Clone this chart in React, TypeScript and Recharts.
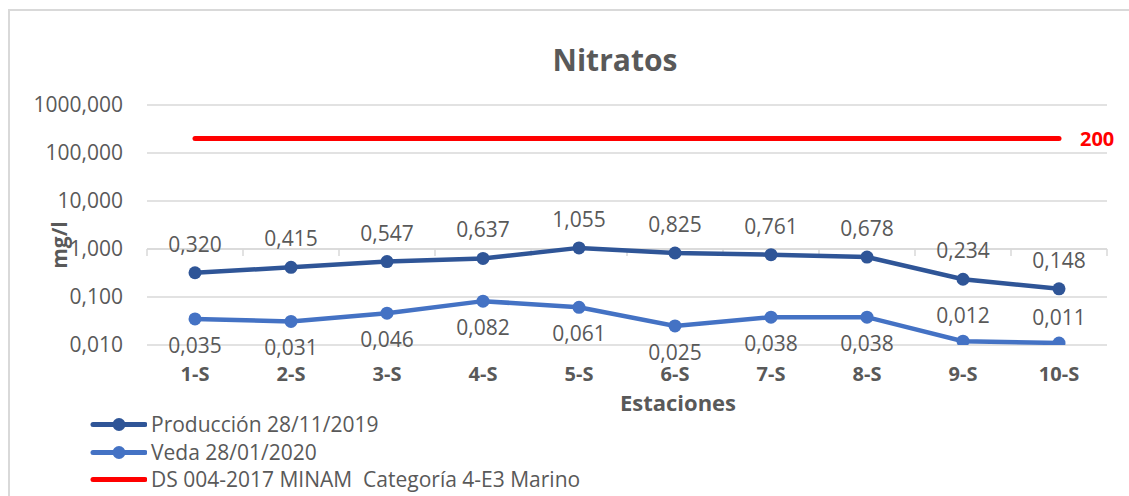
import React from 'react';
import { LineChart, Line, XAxis, YAxis, CartesianGrid, LabelList, ReferenceLine, Legend } from 'recharts';

const categories = ['1-S', '2-S', '3-S', '4-S', '5-S', '6-S', '7-S', '8-S', '9-S', '10-S'];
const produccion = [0.320, 0.415, 0.547, 0.637, 1.055, 0.825, 0.761, 0.678, 0.234, 0.148];
const veda = [0.035, 0.031, 0.046, 0.082, 0.061, 0.025, 0.038, 0.038, 0.012, 0.011];
const limite = [200, 200, 200, 200, 200, 200, 200, 200, 200, 200];
const yTicks = [0.01, 0.1, 1, 10, 100, 1000];
const seriesNames = ['Producción 28/11/2019', 'Veda 28/01/2020', 'DS 004-2017 MINAM  Categoría 4-E3 Marino'];
const vedaLabelsAbove = ['9-S', '10-S'];

const data = categories.map((c, i) => ({ idx: i + 1, cat: c, prod: produccion[i], veda: veda[i], lim: limite[i] }));
const xTicks = data.map((d) => d.idx);
const boundaries = [...categories.map((_, i) => i + 0.5), categories.length + 0.5];

const FONT = "'Open Sans', sans-serif";
const GRAY = '#595959';
const GRID = '#D9D9D9';
const DARK = '#2F5597';
const LIGHT = '#4472C4';
const RED = '#FF0000';

const fmt = (v: number) => Number(v).toFixed(3).replace('.', ',');

const ProdLabel = (p: any) => (
  <text x={p.x} y={p.y - 29} textAnchor="middle" dominantBaseline="central" fontSize={21} fill={GRAY} fontFamily={FONT}>
    {fmt(p.value)}
  </text>
);

const VedaLabel = (p: any) => {
  const above = vedaLabelsAbove.includes(categories[p.index]);
  return (
    <text x={p.x} y={above ? p.y - 26 : p.y + 26} textAnchor="middle" dominantBaseline="central" fontSize={21} fill={GRAY} fontFamily={FONT}>
      {fmt(p.value)}
    </text>
  );
};

const LimLabel = (p: any) => {
  if (p.index !== limite.length - 1) return null;
  return (
    <text x={p.x + 21} y={p.y} textAnchor="start" dominantBaseline="central" fontSize={20} fontWeight={700} fill={RED} fontFamily={FONT}>
      {String(p.value)}
    </text>
  );
};

const XTitle = (p: any) => {
  const vb = p.viewBox || {};
  return (
    <text x={vb.x + vb.width / 2 + 51} y={vb.y + 66} textAnchor="middle" fontSize={22} fontWeight={700} fill={GRAY} fontFamily={FONT}>
      Estaciones
    </text>
  );
};

const YTitle = (p: any) => {
  const vb = p.viewBox || {};
  const cx = vb.x + 12;
  const cy = vb.y + vb.height / 2 + 20;
  return (
    <text x={cx} y={cy} transform={`rotate(-90 ${cx} ${cy})`} textAnchor="middle" dominantBaseline="central" fontSize={21} fontWeight={700} fill={GRAY} fontFamily={FONT}>
      mg/l
    </text>
  );
};

const LegendContent = (props: any) => {
  const payload = [...(props.payload || [])].sort(
    (a: any, b: any) => seriesNames.indexOf(a.value) - seriesNames.indexOf(b.value)
  );
  return (
    <div style={{ fontFamily: FONT }}>
      {payload.map((item: any, i: number) => (
        <div key={i} style={{ display: 'flex', alignItems: 'center', height: 27.5 }}>
          <svg width={58} height={27} style={{ display: 'block' }}>
            <line x1={4} y1={13.5} x2={56} y2={13.5} stroke={item.color} strokeWidth={5} strokeLinecap="round" />
            {item.dataKey !== 'lim' && <circle cx={30} cy={13.5} r={6.5} fill={item.color} />}
          </svg>
          <span style={{ marginLeft: 4, fontSize: 21, color: GRAY, whiteSpace: 'pre', lineHeight: '27.5px' }}>{item.value}</span>
        </div>
      ))}
    </div>
  );
};

export default function App() {
  return (
    <div style={{ position: 'absolute', left: 0, top: 0, width: 1129, height: 496, background: '#fff', overflow: 'hidden' }}>
      <div
        style={{
          position: 'absolute',
          left: 8,
          top: 9,
          width: 1200,
          height: 600,
          borderTop: `2.5px solid ${GRID}`,
          borderLeft: `2.5px solid ${GRID}`,
        }}
      />
      <div
        style={{
          position: 'absolute',
          left: 415,
          top: 39,
          width: 400,
          textAlign: 'center',
          fontFamily: FONT,
          fontWeight: 700,
          fontSize: 30,
          color: GRAY,
          lineHeight: 'normal',
        }}
      >
        Nitratos
      </div>
      <div style={{ position: 'absolute', left: 0, top: 0 }}>
        <LineChart width={1129} height={496} data={data} margin={{ top: 105, right: 22, bottom: 81, left: 47 }}>
          <CartesianGrid horizontal vertical={false} stroke={GRID} strokeWidth={1.5} />
          <XAxis
            type="number"
            dataKey="idx"
            domain={[0.5, 10.5]}
            ticks={xTicks}
            interval={0}
            tickFormatter={(v: number) => categories[v - 1]}
            axisLine={false}
            tickLine={false}
            tickSize={0}
            tickMargin={22}
            height={70}
            tick={{ fill: GRAY, fontSize: 20, fontWeight: 700, fontFamily: FONT }}
            label={XTitle}
          />
          <YAxis
            type="number"
            scale="log"
            domain={[0.01, 1000]}
            ticks={yTicks}
            interval={0}
            allowDataOverflow
            width={100}
            axisLine={false}
            tickLine={false}
            tickSize={0}
            tickMargin={24}
            tickFormatter={fmt}
            tick={{ fill: GRAY, fontSize: 21, fontFamily: FONT }}
            label={YTitle}
          />
          <ReferenceLine y={1} stroke={GRID} strokeWidth={1.5} />
          {boundaries.map((b) => (
            <ReferenceLine
              key={b}
              segment={[{ x: b, y: 1 }, { x: b, y: 1 }]}
              ifOverflow="visible"
              stroke={GRID}
              shape={(p: any) => <line x1={p.x1} y1={p.y1} x2={p.x1} y2={p.y1 + 7} stroke={GRID} strokeWidth={1.5} />}
            />
          ))}
          <Line
            dataKey="prod"
            name={seriesNames[0]}
            stroke={DARK}
            strokeWidth={4.5}
            dot={{ r: 6.5, fill: DARK, stroke: DARK, strokeWidth: 0 }}
            activeDot={false}
            isAnimationActive={false}
          >
            <LabelList dataKey="prod" content={ProdLabel} />
          </Line>
          <Line
            dataKey="veda"
            name={seriesNames[1]}
            stroke={LIGHT}
            strokeWidth={4.5}
            dot={{ r: 6.5, fill: LIGHT, stroke: LIGHT, strokeWidth: 0 }}
            activeDot={false}
            isAnimationActive={false}
          >
            <LabelList dataKey="veda" content={VedaLabel} />
          </Line>
          <Line
            dataKey="lim"
            name={seriesNames[2]}
            stroke={RED}
            strokeWidth={5}
            strokeLinecap="round"
            dot={false}
            activeDot={false}
            isAnimationActive={false}
          >
            <LabelList dataKey="lim" content={LimLabel} />
          </Line>
          <Legend
            layout="vertical"
            align="center"
            verticalAlign="middle"
            wrapperStyle={{ left: 89, top: 411, width: 700 }}
            content={LegendContent}
          />
        </LineChart>
      </div>
    </div>
  );
}
